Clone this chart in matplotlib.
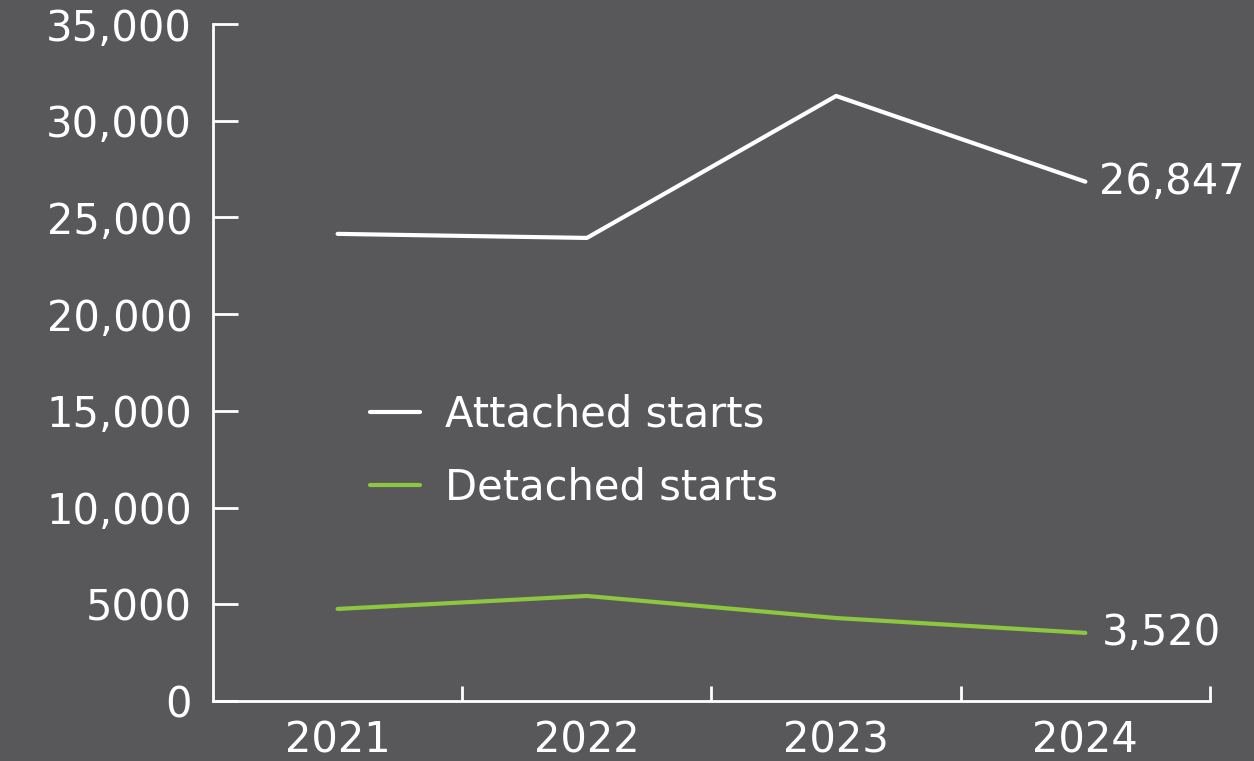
import matplotlib
matplotlib.use("Agg")
import matplotlib.pyplot as plt
from matplotlib.ticker import FuncFormatter

years = ["2021", "2022", "2023", "2024"]
attached = [24150, 23940, 31280, 26847]
detached = [4760, 5430, 4290, 3520]
y_ticks = [0, 5000, 10000, 15000, 20000, 25000, 30000, 35000]

bg = "#58585a"
green = "#8dc63f"
plt.rcParams["font.family"] = ["DejaVu Sans"]
fs = 30

fig = plt.figure(figsize=(12.54, 7.61), dpi=100, facecolor=bg)
ax = fig.add_axes([213 / 1254, 60 / 761, 997 / 1254, 677 / 761], facecolor=bg)

x = range(len(years))
ax.plot(x, attached, color="white", lw=3, solid_capstyle="round", label="Attached starts")
ax.plot(x, detached, color=green, lw=3, solid_capstyle="round", label="Detached starts")

# end labels
ax.annotate(f"{attached[-1]:,}", (3, attached[-1]), xytext=(10, 0), textcoords="offset points",
            va="center", ha="left", color="white", fontsize=fs)
ax.annotate(f"{detached[-1]:,}", (3, detached[-1]), xytext=(12, 0), textcoords="offset points",
            va="center", ha="left", color="white", fontsize=fs)

ax.set_xlim(-0.5, 3.5)
ax.set_ylim(0, 35000)
ax.set_yticks(y_ticks)
ax.yaxis.set_major_formatter(FuncFormatter(lambda v, p: f"{int(v)}" if v < 10000 else f"{int(v):,}"))
ax.set_xticks(list(x))
ax.set_xticklabels(years)
ax.set_xticks([0.5, 1.5, 2.5, 3.5], minor=True)

for s in ["top", "right"]:
    ax.spines[s].set_visible(False)
for s in ["left", "bottom"]:
    ax.spines[s].set_color("white")
    ax.spines[s].set_linewidth(2)

ax.tick_params(axis="y", direction="in", length=18, width=2, color="white",
               labelcolor="white", labelsize=fs, pad=15)
ax.tick_params(axis="x", which="major", length=0, labelcolor="white", labelsize=fs, pad=13)
ax.tick_params(axis="x", which="minor", direction="in", length=11, width=2, color="white")

leg = ax.legend(loc="center left", bbox_to_anchor=(370 / 1254, (761 - 451) / 761),
                bbox_transform=fig.transFigure, frameon=False, fontsize=fs,
                handlelength=1.2, handletextpad=0.6, labelspacing=0.75, borderpad=0,
                borderaxespad=0)
for t in leg.get_texts():
    t.set_color("white")

fig.savefig("out.png", dpi=100, facecolor=bg)
